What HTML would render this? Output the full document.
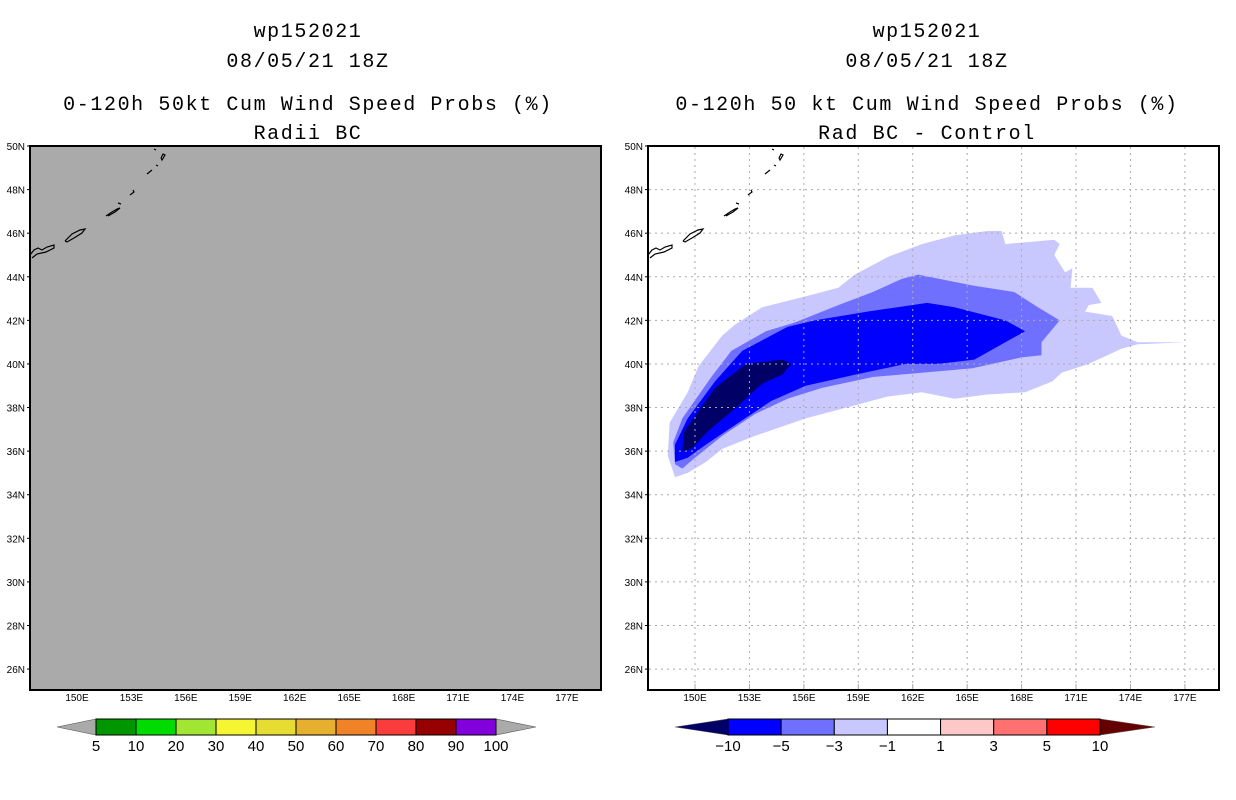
<!DOCTYPE html>
<html><head><meta charset="utf-8"><style>
body{margin:0;background:#fff;}
svg{display:block;font-family:"Liberation Mono",monospace;}
</style></head><body>
<svg width="1236" height="800" viewBox="0 0 1236 800" id="fig">
<g id="titles" font-size="20" text-anchor="middle" letter-spacing="1.6" fill="#000">
<text x="308" y="37">wp152021</text>
<text x="308" y="67">08/05/21 18Z</text>
<text x="308" y="110">0-120h 50kt Cum Wind Speed Probs (%)</text>
<text x="308" y="139">Radii BC</text>
<text x="927" y="37">wp152021</text>
<text x="927" y="67">08/05/21 18Z</text>
<text x="927" y="110">0-120h 50 kt Cum Wind Speed Probs (%)</text>
<text x="927" y="139">Rad BC - Control</text>
</g>
<rect x="30" y="146" width="571" height="544" fill="#aaaaaa"/>
<rect x="648" y="146" width="571" height="544" fill="#ffffff"/>
<g id="right-contours"></g>
<g id="right-grid"></g>
<g id="coast-left"></g>
<g id="coast-right"></g>
<rect x="30" y="146" width="571" height="544" fill="none" stroke="#000" stroke-width="2"/>
<rect x="648" y="146" width="571" height="544" fill="none" stroke="#000" stroke-width="2"/>
<g id="axes" font-family="Liberation Sans, sans-serif" font-size="10"></g>
<g id="cbars" font-family="Liberation Sans, sans-serif" font-size="15"></g>
</svg>
<script>
const lonTicks=[150,153,156,159,162,165,168,171,174,177];
const latTicks=[26,28,30,32,34,36,38,40,42,44,46,48,50];
const lvlM1Lon=[148.9,148.5,148.6,149.6,150.2,151.5,152.2,153.7,156.1,157.9,158.8,160.6,162.5,164.3,166.1,166.9,167.1,169.8,170.1,169.8,170.4,170.8,170.7,171.9,172.4,171.7,171.5,173.0,173.5,174.4,175.7,177.0,174.4,173.5,171.7,170.2,169.7,168.2,166.1,164.3,162.5,160.6,158.8,156.1,153.3,151.5,150.6,149.6];
const lvlM1Lat=[34.8,35.8,37.3,38.7,39.9,41.3,41.8,42.6,43.1,43.5,44.1,44.9,45.5,45.9,46.1,46.1,45.5,45.7,45.5,45.0,44.2,44.4,43.5,43.5,42.8,42.7,42.4,42.2,41.3,41.0,41.0,41.0,40.9,40.7,40.0,39.6,39.2,38.7,38.6,38.4,38.7,38.5,38.1,37.5,36.7,36.1,35.5,35.0];
const lvlM3Lon=[148.9,148.8,149.3,150.9,152.0,153.9,155.5,157.9,159.8,161.4,162.3,165.3,167.6,168.9,170.1,169.1,169.1,168.0,165.3,162.5,159.8,157.0,155.1,153.3,151.5,150.0,149.3];
const lvlM3Lat=[35.4,36.4,37.5,39.4,40.6,41.5,41.9,42.7,43.3,43.9,44.1,43.6,43.3,42.6,42.0,41.0,40.4,40.3,39.8,39.6,39.4,38.9,38.4,37.7,36.7,35.7,35.2];
const lvlM5Lon=[148.9,148.9,149.6,151.1,152.6,155.1,156.6,159.5,162.8,164.3,167.1,168.2,167.1,165.4,163.4,161.6,158.8,156.1,154.2,152.4,150.6,149.6];
const lvlM5Lat=[35.5,36.3,37.5,39.2,40.6,41.7,42.0,42.4,42.8,42.6,42.0,41.5,41.0,40.2,40.0,40.0,39.5,39.0,38.3,37.3,36.3,35.7];
const lvlM10Lon=[149.3,149.4,151.1,152.8,154.8,155.3,154.8,153.7,152.4,150.7,149.8];
const lvlM10Lat=[36.0,36.9,38.9,40.0,40.2,40.0,39.5,39.1,38.1,36.9,36.1];
const leftLevels=["5","10","20","30","40","50","60","70","80","90","100"];
const leftColors=["#009600","#00dc00","#a0e632","#f5f532","#e6dc32","#e6af2d","#f08228","#fa3c3c","#960000","#8200dc"];
const rightLevels=["\u221210","\u22125","\u22123","\u22121","1","3","5","10"];
const rightColors=["#0000ff","#7070ff","#c8c8ff","#ffffff","#ffc8c8","#ff7070","#ff0000"];

const NS="http://www.w3.org/2000/svg";
function mk(tag,attrs,parent){const e=document.createElementNS(NS,tag);for(const k in attrs)e.setAttribute(k,attrs[k]);parent.appendChild(e);return e;}
const LON0=147.41,LON1=178.88,LAT0=25.04,LAT1=50;
function xs(lon,ox){return ox+(lon-LON0)/(LON1-LON0)*571;}
function ys(lat){return 146+(LAT1-lat)/(LAT1-LAT0)*544;}

const rc=document.getElementById('right-contours');
[[lvlM1Lon,lvlM1Lat,"#c8c8ff","contour-minus1"],[lvlM3Lon,lvlM3Lat,"#7070ff","contour-minus3"],[lvlM5Lon,lvlM5Lat,"#0000ff","contour-minus5"],[lvlM10Lon,lvlM10Lat,"#000066","contour-minus10"]].forEach(d=>{
  const pts=d[0].map((lo,i)=>xs(lo,648).toFixed(1)+","+ys(d[1][i]).toFixed(1)).join(" ");
  const p=mk('polygon',{points:pts,fill:d[2]},rc);
  
  
});
const rg=document.getElementById('right-grid');
lonTicks.forEach(lo=>{const l=mk('line',{x1:xs(lo,648),x2:xs(lo,648),y1:147,y2:689,stroke:"#aaa","stroke-dasharray":"2,4"},rg);
  
  });
latTicks.forEach(la=>{const l=mk('line',{x1:649,x2:1218,y1:ys(la),y2:ys(la),stroke:"#aaa","stroke-dasharray":"2,4"},rg);
  
  });

const coast=[[[0,109],[4,104],[8,102],[12,104],[17,101],[24,99],[24,102],[16,106],[7,108],[2,112]],
[[35,95],[42,88],[50,84],[55,83],[52,87],[44,92],[37,96],[35,95]],
[[76,70],[82,66],[87,63],[90,62],[85,66],[78,70]],
[[88,57],[91,58]],[[100,49],[104,46],[103,44]],[[117,28],[122,24]],[[126,19],[128,20]],
[[131,12],[133,8],[135,9],[132,14],[131,12]],[[124,3],[126,4]]];
[['coast-left',30],['coast-right',648]].forEach(c=>{
  const g=document.getElementById(c[0]);
  coast.forEach(s=>{const p=mk('polyline',{points:s.map(q=>(q[0]+c[1])+","+(q[1]+146)).join(" "),fill:"none",stroke:"#000","stroke-width":1.2},g);
    
    });
});

const ax=document.getElementById('axes');
[30,648].forEach(ox=>{
  lonTicks.forEach(lo=>{const t=mk('text',{x:xs(lo,ox),y:701,"text-anchor":"middle"},ax);t.textContent=lo+"E";
    
    
    mk('line',{x1:xs(lo,ox),x2:xs(lo,ox),y1:684,y2:688,stroke:"#aaa"},ax);});
  latTicks.forEach(la=>{const t=mk('text',{x:ox-5,y:ys(la)+4,"text-anchor":"end"},ax);t.textContent=la+"N";
    
    
    mk('line',{x1:ox-3,x2:ox,y1:ys(la),y2:ys(la),stroke:"#000"},ax);});
});

const cb=document.getElementById('cbars');
function cbar(x0,x1,x2,x3,colors,labels,lowC,highC,name){
  const w=(x2-x1)/colors.length,y0=719,y1=735,ym=727;
  const lt=mk('polygon',{points:`${x0},${ym} ${x1},${y0} ${x1},${y1}`,fill:lowC,stroke:"#555","stroke-width":0.6},cb);
  
  
  const ht=mk('polygon',{points:`${x3},${ym} ${x2},${y0} ${x2},${y1}`,fill:highC,stroke:"#555","stroke-width":0.6},cb);
  
  
  colors.forEach((c,i)=>{const r=mk('rect',{x:x1+i*w,y:y0,width:w,height:y1-y0,fill:c,stroke:"#000","stroke-width":1},cb);
    
    });
  labels.forEach((l,i)=>{const t=mk('text',{x:x1+i*w,y:751,"text-anchor":"middle"},cb);t.textContent=l;
    
    });
}
cbar(57,96,496,536,leftColors,leftLevels,"#aaaaaa","#aaaaaa","left-colorbar");
cbar(675,728,1100,1155,rightColors,rightLevels,"#000066","#660000","right-colorbar");
</script>
</body></html>
